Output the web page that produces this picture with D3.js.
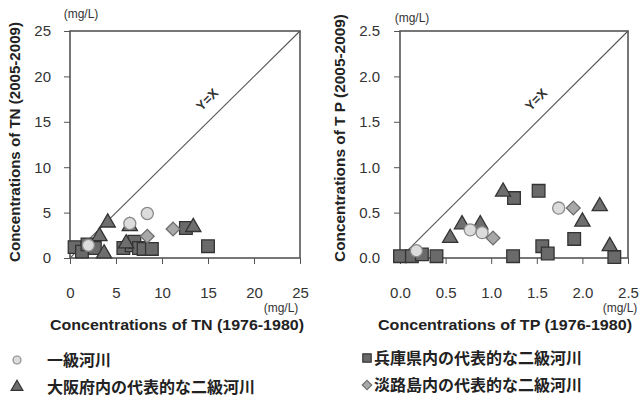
<!DOCTYPE html>
<html>
<head>
<meta charset="utf-8">
<script src="https://cdn.jsdelivr.net/npm/d3@7"></script>
<style>
  html, body { margin: 0; padding: 0; background: #fff; }
  svg { display: block; }
  .tick text { font-family: "Liberation Sans", Arial, sans-serif; font-size: 15px; fill: #333; }
</style>
</head>
<body>
<svg id="chart" width="642" height="398"></svg>
<script>
// Total nitrogen: [1976-1980 value, 2005-2009 value] in mg/L
const tnClass1   = [[2.0, 1.4], [6.5, 3.8], [8.4, 4.9]];
const tnOsaka    = [[3.2, 2.4], [4.1, 3.9], [3.7, 0.5], [6.5, 3.5], [6.1, 1.6], [13.4, 3.4]];
const tnHyogo    = [[0.5, 1.2], [1.3, 0.7], [1.9, 1.5], [2.7, 1.1], [5.8, 1.1], [6.7, 1.4],
                    [7.0, 1.8], [7.5, 1.1], [8.0, 1.0], [8.9, 1.0], [12.6, 3.3], [15.0, 1.3]];
const tnAwaji    = [[8.4, 2.4], [11.2, 3.2]];

// Total phosphorus: [1976-1980 value, 2005-2009 value] in mg/L
const tpClass1   = [[0.18, 0.08], [0.77, 0.31], [0.90, 0.28], [1.74, 0.55]];
const tpOsaka    = [[0.55, 0.22], [0.68, 0.37], [0.88, 0.37], [1.13, 0.73], [2.00, 0.40], [2.19, 0.57], [2.30, 0.13]];
const tpHyogo    = [[0.00, 0.02], [0.13, 0.02], [0.24, 0.04], [0.40, 0.02], [1.25, 0.66], [1.24, 0.02],
                    [1.52, 0.74], [1.56, 0.13], [1.62, 0.05], [1.91, 0.21], [2.35, 0.01]];
const tpAwaji    = [[1.02, 0.22], [1.90, 0.55]];

const tnTicks = [0, 5, 10, 15, 20, 25];
const tpTicks = [0, 0.5, 1.0, 1.5, 2.0, 2.5];

const seriesNames = ["一級河川", "大阪府内の代表的な二級河川", "兵庫県内の代表的な二級河川", "淡路島内の代表的な二級河川"];

const svg = d3.select("#chart");
const font = "'Liberation Sans', Arial, sans-serif";
const cjk = "'Noto Sans CJK JP', 'Noto Sans CJK SC', sans-serif";

// marker styles per series (the diamond is a square turned by 45 degrees)
const styles = {
  circle:   { type: d3.symbolCircle,   size: 115, rot: 0,  fill: "#dcdcdc", stroke: "#8a8a8a" },
  triangle: { type: d3.symbolTriangle, size: 100, rot: 0,  fill: "#6e6e6e", stroke: "#333" },
  square:   { type: d3.symbolSquare,   size: 160, rot: 0,  fill: "#6a6a6a", stroke: "#333" },
  diamond:  { type: d3.symbolSquare,   size: 95,  rot: 45, fill: "#a8a8a8", stroke: "#6e6e6e" }
};

function panel(opt) {
  const x = d3.scaleLinear().domain([0, opt.max]).range([opt.x0, opt.x1]);
  const y = d3.scaleLinear().domain([0, opt.max]).range([258, 31]);
  const g = svg.append("g");

  // axes
  const ax = g.append("g").attr("transform", "translate(0,258)")
    .call(d3.axisBottom(x).tickValues(opt.ticks).tickFormat(opt.fmt).tickSize(6).tickPadding(23));
  ax.select(".domain").remove();
  ax.selectAll(".tick line").attr("stroke", "#555");

  const ay = g.append("g").attr("transform", `translate(${opt.x0},0)`)
    .call(d3.axisLeft(y).tickValues(opt.ticks).tickFormat(opt.fmt).tickSize(6).tickPadding(opt.ypad));
  ay.select(".domain").remove();
  ay.selectAll(".tick line").attr("stroke", "#555");

  // plot frame
  g.append("rect")
    .attr("x", x(0)).attr("y", y(opt.max))
    .attr("width", x(opt.max) - x(0)).attr("height", y(0) - y(opt.max))
    .attr("fill", "none").attr("stroke", "#555").attr("stroke-width", 1.6);

  // Y = X reference line
  g.append("line")
    .attr("x1", x(0)).attr("y1", y(0)).attr("x2", x(opt.max)).attr("y2", y(opt.max))
    .attr("stroke", "#555").attr("stroke-width", 1.1);
  g.append("text")
    .attr("transform", `translate(${x(opt.max * 0.6)},${y(opt.max * 0.695)}) rotate(-45)`)
    .attr("text-anchor", "middle").attr("dominant-baseline", "middle")
    .attr("font-family", font).attr("font-weight", "bold").attr("font-size", 13).attr("fill", "#333")
    .text("Y=X");

  // points: squares, triangles, circles, diamonds
  const layers = [[opt.hyogo, styles.square], [opt.osaka, styles.triangle],
                  [opt.class1, styles.circle], [opt.awaji, styles.diamond]];
  layers.forEach(([data, s]) => {
    g.append("g").selectAll("path").data(data).join("path")
      .attr("d", d3.symbol().type(s.type).size(s.size))
      .attr("transform", d => `translate(${x(d[0])},${y(d[1])}) rotate(${s.rot})`)
      .attr("fill", s.fill).attr("stroke", s.stroke).attr("stroke-width", 1.3);
  });

  // unit labels
  g.append("text").attr("x", opt.unitTop[0]).attr("y", opt.unitTop[1])
    .attr("text-anchor", "middle").attr("font-family", font).attr("font-size", 12).attr("fill", "#333")
    .text("(mg/L)");
  g.append("text").attr("x", opt.unitBottom[0]).attr("y", opt.unitBottom[1])
    .attr("text-anchor", "middle").attr("font-family", font).attr("font-size", 12).attr("fill", "#333")
    .text("(mg/L)");

  // axis titles
  g.append("text").attr("x", opt.xTitleX).attr("y", 330)
    .attr("text-anchor", "middle").attr("font-family", font).attr("font-weight", "bold")
    .attr("font-size", 14).attr("fill", "#222")
    .attr("textLength", 254).attr("lengthAdjust", "spacingAndGlyphs")
    .text(opt.xTitle);
  g.append("text")
    .attr("transform", `translate(${opt.yTitleX},${opt.yTitleY}) rotate(-90)`)
    .attr("text-anchor", "middle").attr("font-family", font).attr("font-weight", "bold")
    .attr("font-size", 14).attr("fill", "#222")
    .attr("textLength", opt.yTitleLen).attr("lengthAdjust", "spacingAndGlyphs")
    .text(opt.yTitle);
}

panel({
  max: 25, x0: 70, x1: 300, ticks: tnTicks, fmt: d3.format("d"), ypad: 13,
  class1: tnClass1, osaka: tnOsaka, hyogo: tnHyogo, awaji: tnAwaji,
  unitTop: [81, 18], unitBottom: [281, 312],
  xTitle: "Concentrations of TN (1976-1980)", xTitleX: 177,
  yTitle: "Concentrations of TN (2005-2009)", yTitleX: 20, yTitleY: 142, yTitleLen: 240
});

panel({
  max: 2.5, x0: 400, x1: 628, ticks: tpTicks, fmt: d3.format(".1f"), ypad: 14,
  class1: tpClass1, osaka: tpOsaka, hyogo: tpHyogo, awaji: tpAwaji,
  unitTop: [412, 22], unitBottom: [620, 312],
  xTitle: "Concentrations of TP (1976-1980)", xTitleX: 505,
  yTitle: "Concentrations of T P (2005-2009)", yTitleX: 345, yTitleY: 138, yTitleLen: 248
});

// legend
const legendItems = [
  { name: seriesNames[0], s: styles.circle,   x: 17,  y: 360, size: 50, tx: 47 },
  { name: seriesNames[1], s: styles.triangle, x: 17,  y: 387, size: 60, tx: 47 },
  { name: seriesNames[2], s: styles.square,   x: 367, y: 358, size: 70, tx: 374 },
  { name: seriesNames[3], s: styles.diamond,  x: 367, y: 385, size: 45, tx: 374 }
];
const lg = svg.append("g");
legendItems.forEach(it => {
  lg.append("path")
    .attr("d", d3.symbol().type(it.s.type).size(it.size))
    .attr("transform", `translate(${it.x},${it.y}) rotate(${it.s.rot})`)
    .attr("fill", it.s.fill).attr("stroke", it.s.stroke).attr("stroke-width", 1.2);
  lg.append("text").attr("x", it.tx).attr("y", it.y + 6)
    .attr("font-family", cjk).attr("font-weight", "bold").attr("font-size", 16).attr("fill", "#222")
    .text(it.name);
});
</script>
</body>
</html>
